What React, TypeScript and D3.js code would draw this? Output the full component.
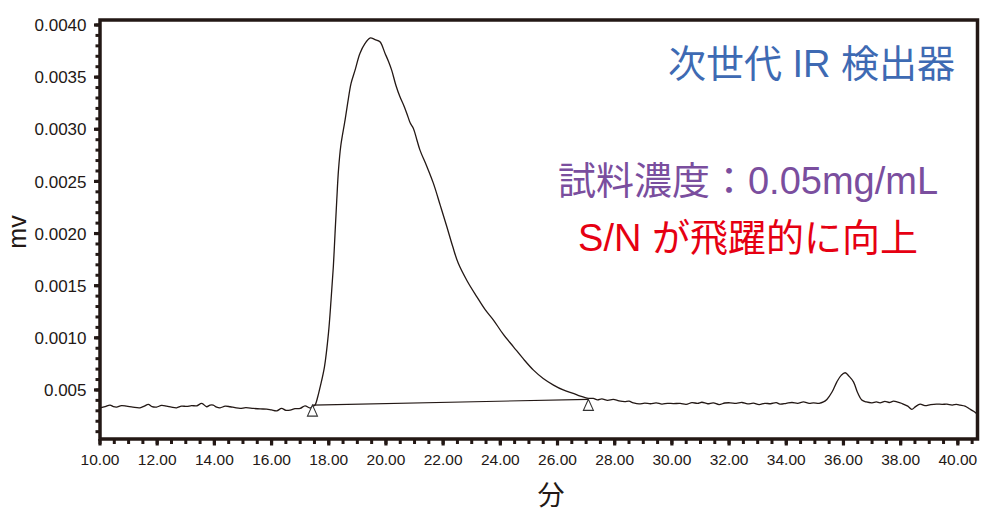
import React from 'react';
import * as d3 from 'd3';

// Retention time (min)
const times = [
  10.0, 10.18, 10.35, 10.47, 10.58, 10.75, 10.93, 11.15, 11.4, 11.55, 11.69, 11.82, 11.98, 12.15, 12.33,
  12.5, 12.68, 12.85, 13.03, 13.2, 13.38, 13.56, 13.73, 13.85, 13.96, 14.08, 14.2, 14.38, 14.55, 14.72,
  14.9, 15.1, 15.36, 15.6, 15.83, 16.0, 16.18, 16.35, 16.5, 16.65, 16.82, 17.0, 17.17, 17.35, 17.45,
  17.52, 17.62, 17.7, 17.85, 17.99, 18.08, 18.16, 18.22, 18.28, 18.34, 18.42, 18.57, 18.66, 18.78, 18.92,
  19.09, 19.27, 19.44, 19.62, 19.79, 19.97, 20.09, 20.2, 20.35, 20.49, 20.62, 20.73, 20.85, 20.96, 21.08,
  21.19, 21.42, 21.66, 21.9, 22.13, 22.33, 22.53, 22.85, 23.18, 23.47, 23.76, 24.1, 24.46, 24.8, 25.16,
  25.5, 25.86, 26.2, 26.55, 26.8, 27.08,
  27.25, 27.4, 27.55, 27.75, 27.95, 28.15, 28.35, 28.5, 28.65, 28.85, 29.05, 29.25, 29.45, 29.65, 29.85,
  30.05, 30.29, 30.5, 30.7, 30.9, 31.05, 31.25, 31.45, 31.65, 31.85, 32.04, 32.25, 32.45, 32.65, 32.85,
  33.05, 33.25, 33.45, 33.65, 33.78, 34.0, 34.2, 34.4, 34.6, 34.8, 34.95, 35.15, 35.3, 35.42, 35.6,
  35.77, 35.92, 36.06, 36.2, 36.35, 36.5, 36.64, 36.8, 37.0, 37.15, 37.28, 37.45, 37.6, 37.75, 37.87,
  38.05, 38.25, 38.39, 38.52, 38.68, 38.85, 39.05, 39.25, 39.45, 39.62, 39.8, 39.95, 40.08, 40.25, 40.4,
  40.55, 40.67,
];

// Detector response (mv)
const signal = [
  0.000329, 0.00034, 0.000355, 0.00034, 0.000336, 0.00035, 0.000345, 0.000335, 0.000329, 0.000345, 0.000362, 0.00034, 0.000336, 0.000352, 0.000345,
  0.000335, 0.000329, 0.000345, 0.000342, 0.00035, 0.000348, 0.000371, 0.000339, 0.000355, 0.000355, 0.000335, 0.000329, 0.000345, 0.000339, 0.00033,
  0.000323, 0.00033, 0.000323, 0.000318, 0.000316, 0.000308, 0.0003, 0.000323, 0.000305, 0.000307, 0.00032, 0.000323, 0.000348, 0.000327, 0.000345,
  0.000355, 0.00044, 0.00053, 0.000722, 0.001045, 0.001362, 0.001681, 0.002004, 0.002321, 0.002608, 0.00284, 0.003088, 0.003248, 0.00344, 0.003567,
  0.003727, 0.003823, 0.003875, 0.00386, 0.003839, 0.003727, 0.00365, 0.003567, 0.00342, 0.003311, 0.00323, 0.003152, 0.00306, 0.003008, 0.0029,
  0.0028, 0.00265, 0.002481, 0.00227, 0.002065, 0.00188, 0.001714, 0.00154, 0.001393, 0.00127, 0.00117, 0.001035, 0.000914, 0.0008, 0.00069,
  0.00061, 0.000547, 0.0005, 0.000467, 0.00044, 0.000419,
  0.000419, 0.000405, 0.000415, 0.0004, 0.000409, 0.000395, 0.000388, 0.000392, 0.000377, 0.000366, 0.000374, 0.000368, 0.000376, 0.000365, 0.000372,
  0.000369, 0.000371, 0.000362, 0.000378, 0.000372, 0.000382, 0.000368, 0.000377, 0.00036, 0.000375, 0.000377, 0.000372, 0.00038, 0.000366, 0.000374,
  0.00036, 0.000372, 0.000368, 0.000378, 0.000364, 0.000372, 0.00038, 0.000372, 0.000385, 0.000372, 0.000377, 0.000372, 0.000385, 0.000409, 0.00048,
  0.000578, 0.00064, 0.000665, 0.00063, 0.000578, 0.00047, 0.000403, 0.000385, 0.000377, 0.000385, 0.000377, 0.00039, 0.00038, 0.000392, 0.000386,
  0.00037, 0.000345, 0.000314, 0.00034, 0.000364, 0.00035, 0.00036, 0.000365, 0.000362, 0.000364, 0.000355, 0.000362, 0.000355, 0.000345, 0.00032,
  0.000295, 0.000269,
];

// Integration baseline markers
const markerTimes = [17.43, 27.08];
const markerValues = [0.000355, 0.00041];

const xTickValues = [10, 12, 14, 16, 18, 20, 22, 24, 26, 28, 30, 32, 34, 36, 38, 40];
const xTickLabels = ['10.00', '12.00', '14.00', '16.00', '18.00', '20.00', '22.00', '24.00', '26.00', '28.00', '30.00', '32.00', '34.00', '36.00', '38.00', '40.00'];
const xMinorTicks = d3.range(10, 40.75, 0.5);

const yTickValues = [0.004, 0.0035, 0.003, 0.0025, 0.002, 0.0015, 0.001, 0.0005];
const yTickLabels = ['0.0040', '0.0035', '0.0030', '0.0025', '0.0020', '0.0015', '0.0010', '0.005'];
const yMinorTicks = d3.range(1, 41).map((i) => i * 0.0001);

const xLabel = '分';
const yLabel = 'mv';
const title = '次世代 IR 検出器';
const note1 = '試料濃度：0.05mg/mL';
const note2 = 'S/N が飛躍的に向上';

export default function App() {
  const W = 995;
  const H = 516;
  const left = 100;
  const right = 977.5;
  const top = 20;
  const bottom = 439;
  const ink = '#231815';
  const latin = '"Liberation Sans", Arial, Helvetica, sans-serif';
  const cjk = '"Liberation Sans", "Noto Sans CJK JP", sans-serif';

  const x = d3.scaleLinear().domain([10, 40.67]).range([left, right - 0.5]);
  const y = d3.scaleLinear().domain([0, 0.004]).range([442.1, 25]);

  const pts: [number, number][] = times.map((t, i) => [t, signal[i]]);
  const line = d3
    .line<[number, number]>()
    .x((d) => x(d[0]))
    .y((d) => y(d[1]))
    .curve(d3.curveCatmullRom.alpha(0.5));

  const baseLine = d3
    .line<number>()
    .x((_, i) => x(markerTimes[i]))
    .y((_, i) => y(markerValues[i]));

  return (
    <svg
      width={W}
      height={H}
      style={{ position: 'absolute', left: 0, top: 0, background: '#fff' }}
      xmlns="http://www.w3.org/2000/svg"
    >
      <rect x={0} y={0} width={W} height={H} fill="#fff" />

      {/* y ticks */}
      {yMinorTicks.map((v, i) => (
        <line key={'ym' + i} x1={left - 4.5} x2={left} y1={y(v)} y2={y(v)} stroke={ink} strokeWidth={3} />
      ))}
      {yTickValues.map((v, i) => (
        <line key={'yM' + i} x1={left - 6} x2={left} y1={y(v)} y2={y(v)} stroke={ink} strokeWidth={3.2} />
      ))}
      {yTickValues.map((v, i) => (
        <text
          key={'yl' + i}
          x={86.5}
          y={y(v)}
          dy="0.36em"
          textAnchor="end"
          fontFamily={latin}
          fontSize={17}
          fill={ink}
        >
          {yTickLabels[i]}
        </text>
      ))}

      {/* x ticks */}
      {xMinorTicks.map((t, i) => (
        <line key={'xm' + i} x1={x(t)} x2={x(t)} y1={bottom} y2={bottom + 5} stroke={ink} strokeWidth={3} />
      ))}
      {xTickValues.map((t, i) => (
        <line key={'xM' + i} x1={x(t)} x2={x(t)} y1={bottom} y2={bottom + 6.5} stroke={ink} strokeWidth={3.2} />
      ))}
      {xTickValues.map((t, i) => (
        <text
          key={'xl' + i}
          x={x(t)}
          y={465}
          textAnchor="middle"
          fontFamily={latin}
          fontSize={15.5}
          fill={ink}
        >
          {xTickLabels[i]}
        </text>
      ))}

      {/* frame */}
      <path
        d={`M${left},${bottom} L${left},${top} L${right},${top} L${right},${bottom} Z`}
        fill="none"
        stroke={ink}
        strokeWidth={3.5}
        strokeLinejoin="miter"
      />

      {/* baseline between markers */}
      <path d={baseLine(markerTimes) || ''} fill="none" stroke={ink} strokeWidth={1.2} />

      {/* signal */}
      <path d={line(pts) || ''} fill="none" stroke={ink} strokeWidth={1.3} strokeLinejoin="round" />

      {/* markers */}
      {markerTimes.map((t, i) => {
        const cx = x(t);
        const cy = y(markerValues[i]);
        return (
          <path
            key={'mk' + i}
            d={`M${cx},${cy} L${cx - 5},${cy + 11} L${cx + 5},${cy + 11} Z`}
            fill="#fff"
            stroke="#333"
            strokeWidth={1.1}
          />
        );
      })}

      {/* axis titles */}
      <text
        transform="translate(26,232) rotate(-90)"
        textAnchor="middle"
        fontFamily={latin}
        fontSize={25}
        fill={ink}
      >
        {yLabel}
      </text>
      <text x={551} y={505} textAnchor="middle" fontFamily={cjk} fontSize={27} fill={ink}>
        {xLabel}
      </text>

      {/* annotations */}
      <text x={955} y={77} textAnchor="end" fontFamily={cjk} fontSize={38} fill="#3e6ab3">
        {title}
      </text>
      <text x={748} y={193.5} textAnchor="middle" fontFamily={cjk} fontSize={38} fill="#7a4e9e">
        {note1}
      </text>
      <text x={748} y={251} textAnchor="middle" fontFamily={cjk} fontSize={38} fill="#e60012">
        {note2}
      </text>
    </svg>
  );
}
